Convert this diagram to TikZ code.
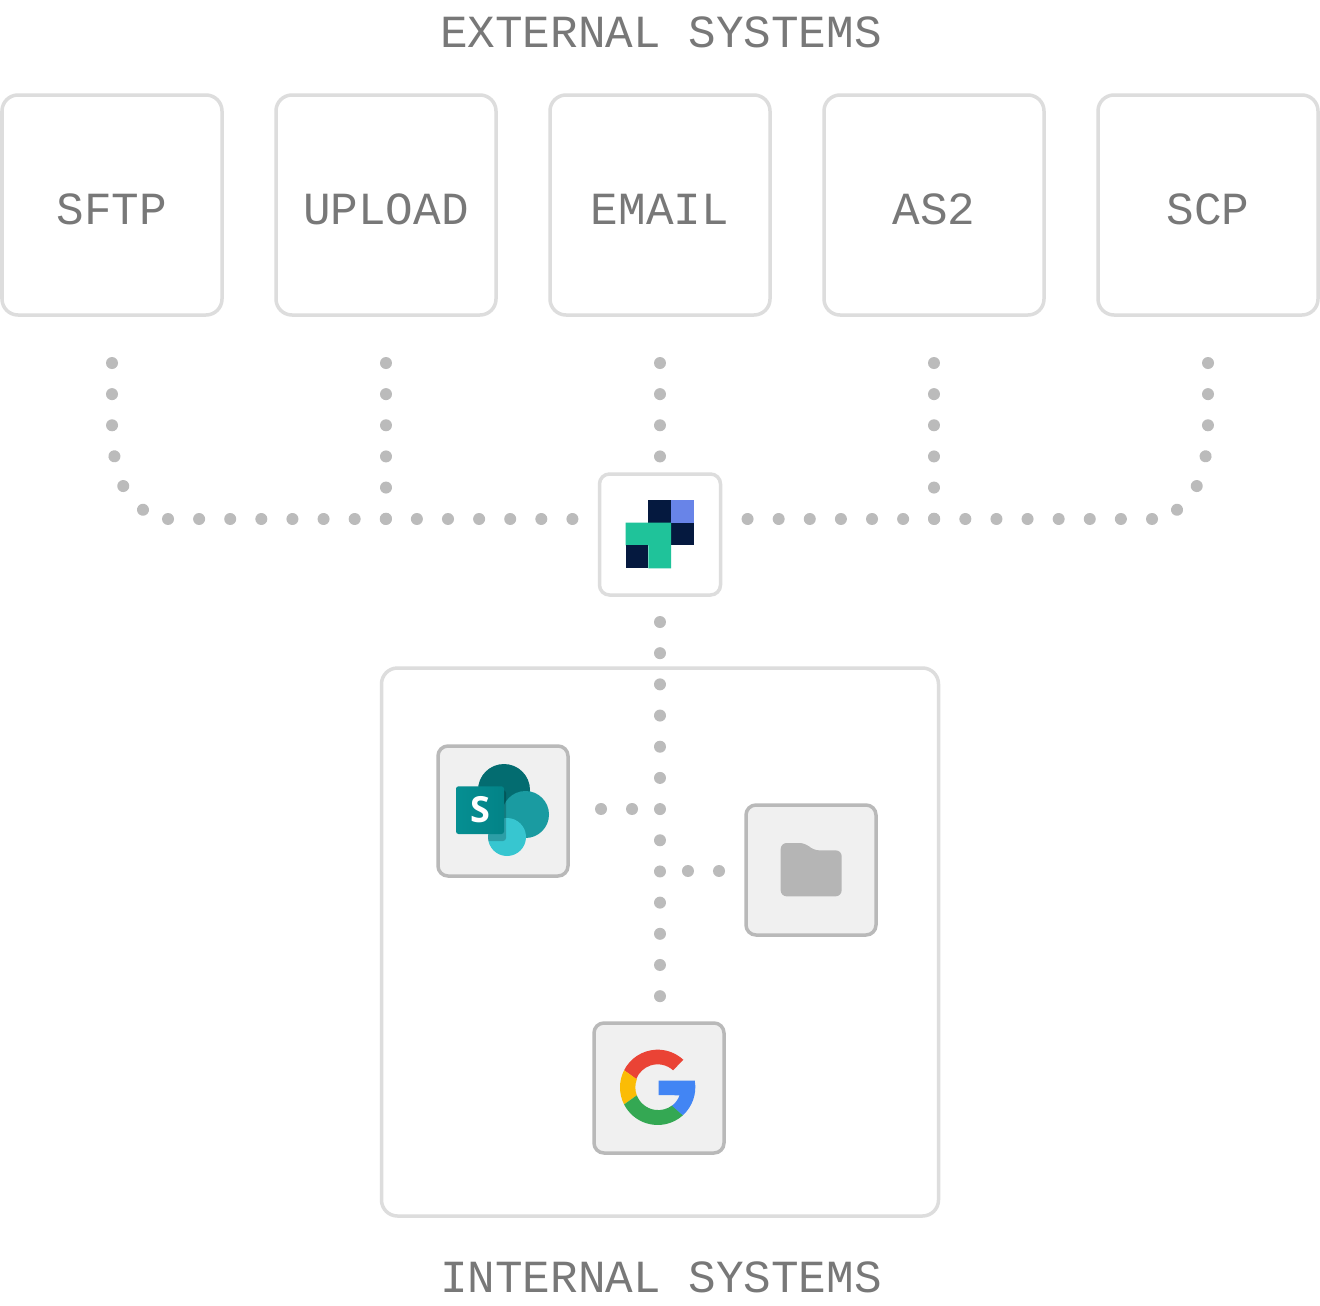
\documentclass[tikz,border=0pt]{standalone}
\usepackage{fontspec}
\setmonofont{Liberation Mono}
\setsansfont{Open Sans}
\usetikzlibrary{calc}
\definecolor{edgelight}{HTML}{DDDDDD}
\definecolor{edgedark}{HTML}{B9B9B9}
\definecolor{tilefill}{HTML}{F0F0F0}
\definecolor{inktext}{HTML}{787878}
\definecolor{dotgrey}{HTML}{BBBBBB}
\definecolor{navy}{HTML}{05193F}
\definecolor{logoblue}{HTML}{6884E8}
\definecolor{logogreen}{HTML}{1FC39A}
\definecolor{sptop}{HTML}{036C70}
\definecolor{spmid}{HTML}{1A9BA1}
\definecolor{spbot}{HTML}{37C6D0}
\definecolor{spa}{HTML}{058F92}
\definecolor{spb}{HTML}{038387}
\definecolor{foldergrey}{HTML}{B5B5B5}
\definecolor{gred}{HTML}{EA4335}
\definecolor{gyellow}{HTML}{FBBC05}
\definecolor{ggreen}{HTML}{34A853}
\definecolor{gblue}{HTML}{4285F4}
\tikzset{
  x=1pt,y=-1pt,
  sysbox/.style={draw=edgelight,line width=3.5pt,fill=white,rounded corners=16pt,minimum width=220pt,minimum height=220pt,inner sep=0pt,outer sep=0pt,
    text=inktext,font=\ttfamily\fontsize{46}{50}\selectfont,text height=38pt,text depth=0pt},
  hubbox/.style={draw=edgelight,line width=3.5pt,fill=white,rounded corners=10pt,minimum width=121pt,minimum height=121pt,inner sep=0pt,outer sep=0pt},
  groupbox/.style={draw=edgelight,line width=3.5pt,fill=white,rounded corners=16pt,minimum width=557pt,minimum height=548pt,inner sep=0pt,outer sep=0pt},
  tilebox/.style={draw=edgedark,line width=3.5pt,fill=tilefill,rounded corners=10pt,minimum width=130pt,minimum height=130pt,inner sep=0pt,outer sep=0pt},
  titletext/.style={text=inktext,font=\ttfamily\fontsize{46}{50}\selectfont,inner sep=0pt,anchor=base},
  dotline/.style={draw=dotgrey,line width=12pt,line cap=round,dash pattern=on 0.01pt off #1},
  dotline/.default=31.1pt,
}
\begin{document}
\begin{tikzpicture}
\useasboundingbox (0,0) rectangle (1320,1306);
\fill[white] (0,0) rectangle (1320,1306);

\node[titletext] (exttitle) at (661,48) {EXTERNAL SYSTEMS};
\node[titletext] (inttitle) at (661,1292) {INTERNAL SYSTEMS};

\node[sysbox] (sftp) at (112,205) {SFTP};
\node[sysbox] (upload) at (386,205) {UPLOAD};
\node[sysbox] (email) at (660,205) {EMAIL};
\node[sysbox] (as2) at (934,205) {AS2};
\node[sysbox] (scp) at (1208,205) {SCP};

\node[hubbox] (hub) at (660,534.5) {};
\node[groupbox] (group) at (660,942) {};
\node[tilebox] (share) at (503,811) {};
\node[tilebox] (folder) at (811,870) {};
\node[tilebox] (google) at (659,1088) {};

% hub logo
\fill[navy] (648.3,500) rectangle (671,522.7);
\fill[logoblue] (671,500) rectangle (693.7,522.7);
\fill[navy] (671,522.7) rectangle (693.7,545.3);
\fill[logogreen] (625.7,522.7) -- (671,522.7) -- (671,568.3) -- (648.3,568.3) -- (648.3,545.3) -- (625.7,545.3) -- cycle;
\fill[navy] (625.7,545.3) rectangle (648.3,568.3);

% connectors
\coordinate (sftpout) at ($(sftp.south)+(0,48)$);
\coordinate (uploadout) at ($(upload.south)+(0,48)$);
\coordinate (emailout) at ($(email.south)+(0,48)$);
\coordinate (as2out) at ($(as2.south)+(0,48)$);
\coordinate (scpout) at ($(scp.south)+(0,48)$);
\coordinate (hubleft) at ($(hub.west)+(-27,-15.5)$);
\coordinate (hubright) at ($(hub.east)+(26,-15.5)$);
\coordinate (hubup) at ($(hub.north)+(0,-17)$);
\coordinate (hubdown) at ($(hub.south)+(0,27)$);
\coordinate (spine) at ($(google.north)+(1,-26)$);
\coordinate (shareout) at ($(share.east)+(33,-2)$);
\coordinate (folderout) at ($(folder.west)+(-27,1)$);
\coordinate (leftrun) at (168,519);
\coordinate (rightrun) at (1152,519);

\draw[dotline=31.13pt] (sftpout) -- (112,420) .. controls (112,470) and (122,498) .. (150,514.5);
\draw[dotline=31.13pt] (scpout) -- (1208,420) .. controls (1208,470) and (1198,498) .. (1170,514.5);
\draw[dotline] (leftrun) -- (hubleft);
\draw[dotline] (rightrun) -- (hubright);
\draw[dotline=31.13pt] (uploadout) -- (386,519);
\draw[dotline=31.13pt] (emailout) -- (hubup);
\draw[dotline=31.13pt] (as2out) -- (934,519);
\draw[dotline=31.17pt] (hubdown) -- (spine);
\draw[dotline=31pt] (shareout) -- (660,809);
\draw[dotline=31pt] (folderout) -- (660,871);

% SharePoint icon
\fill[sptop] (504,790) circle (26);
\fill[spmid] (525.5,814.5) circle (23.5);
\fill[spbot] (507,837) circle (19);
\begin{scope}
  \clip (504,790) circle (26) (525.5,814.5) circle (23.5) (507,837) circle (19);
  \fill[black,opacity=.2,rounded corners=3pt] (470,790) rectangle (506,841);
\end{scope}
\shade[left color=spa,right color=spb,rounded corners=2.5pt] (456,786.3) rectangle (504,834);
\node[text=white,font=\sffamily\bfseries\fontsize{36}{40}\selectfont,inner sep=0pt] (sharemark) at (480.5,810) {S};

% folder icon
\begin{scope}[shift={(740,798)},x=.33333pt,y=-.33333pt]
  \fill[foldergrey,rounded corners=6pt] (122,135) -- (197,135) -- (219,157) -- (305,157) -- (305,295) -- (122,295) -- cycle;
\end{scope}

% Google icon
\begin{scope}[shift={(587,1015)},x=.33333pt,y=-.33333pt]
  \fill[gred] ({212+113*cos(207)},{217+113*sin(207)}) arc[start angle=207,end angle=313,radius=113] -- ({212+69*cos(312)},{217+69*sin(312)}) arc[start angle=312,end angle=201,radius=69] -- cycle;
  \fill[gyellow] ({212+113*cos(153)},{217+113*sin(153)}) arc[start angle=153,end angle=207,radius=113] -- ({212+67*cos(201)},{217+67*sin(201)}) arc[start angle=201,end angle=159,radius=67] -- cycle;
  \fill[ggreen] ({212+113*cos(48)},{217+113*sin(48)}) arc[start angle=48,end angle=153,radius=113] -- ({212+67*cos(159)},{217+67*sin(159)}) arc[start angle=159,end angle=52,radius=69] -- cycle;
  \fill[gblue] (215,197) -- ({212+113*cos(-10)},197) arc[start angle=-10,end angle=48,radius=113] -- ({212+70*cos(52)},{217+70*sin(52)}) arc[start angle=52,end angle=20,radius=70] -- (215,240) -- cycle;
\end{scope}
\end{tikzpicture}
\end{document}
